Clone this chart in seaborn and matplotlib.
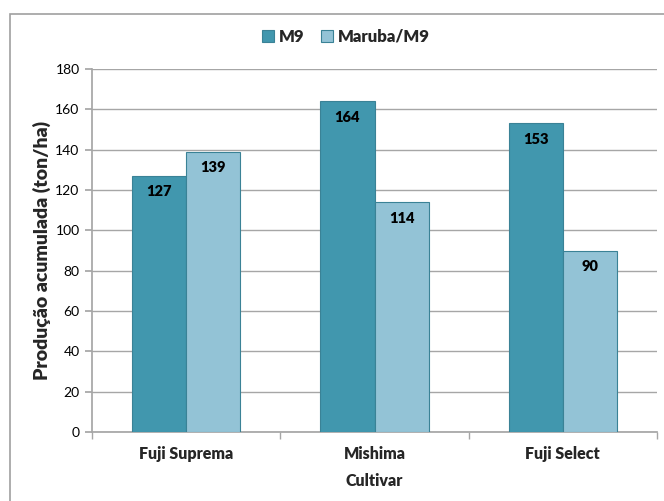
import matplotlib
matplotlib.use("Agg")
import matplotlib.pyplot as plt
import seaborn as sns
import pandas as pd
from matplotlib.patches import Rectangle

cultivars = ["Fuji Suprema", "Mishima", "Fuji Select"]
m9 = [127, 164, 153]
maruba = [139, 114, 90]
series = ["M9", "Maruba/M9"]

df = pd.DataFrame({
    "Cultivar": cultivars * 2,
    "value": m9 + maruba,
    "Porta-enxerto": [series[0]] * 3 + [series[1]] * 3,
})

sns.set_theme(style="white")
plt.rcParams['font.family'] = ['Lato', 'DejaVu Sans']

fig = plt.figure(figsize=(6.64, 5.01), dpi=100)
ax = fig.add_axes([92/664, 1-432/501, (657-92)/664, (432-69)/501])

palette = {"M9": "#4197AE", "Maruba/M9": "#93C3D6"}
sns.barplot(data=df, x="Cultivar", y="value", hue="Porta-enxerto",
            palette=palette, width=0.575, ax=ax, edgecolor="#3A8296",
            linewidth=0.8, saturation=1, legend=True, zorder=3)

ax.set_ylim(0, 180)
ax.set_yticks(range(0, 181, 20))
ax.set_xlim(-0.5, 2.5)
ax.yaxis.grid(True, color="#A6A6A6", linewidth=1, zorder=0)
ax.set_axisbelow(True)
for s in ["top", "right"]:
    ax.spines[s].set_visible(False)
ax.spines["left"].set_color("#A6A6A6")
ax.spines["bottom"].set_color("#A6A6A6")
ax.tick_params(axis="y", length=5, color="#A6A6A6", left=True, labelsize=10, pad=4, labelcolor="black")
ax.set_xticks([0, 1, 2])
ax.set_xticklabels(cultivars, fontweight="heavy", fontsize=11.5)
ax.tick_params(axis="x", length=0, pad=10)
ax.set_xticks([-0.5, 0.5, 1.5, 2.5], minor=True)
ax.tick_params(axis="x", which="minor", length=5, color="#A6A6A6", bottom=True)

for cont in ax.containers:
    for bar in cont:
        h = bar.get_height()
        ax.annotate(f"{int(round(h))}", (bar.get_x() + bar.get_width()/2, h),
                    xytext=(0, -11.5), textcoords="offset points", ha="center",
                    va="center", fontsize=10.5, fontweight="heavy", color="black", zorder=5)

ax.set_xlabel("Cultivar", fontweight="heavy", fontsize=11.5, labelpad=8)
ax.set_ylabel("Produção acumulada (ton/ha)", fontweight="heavy", fontsize=14, labelpad=3)

leg = ax.legend(loc="center", bbox_to_anchor=((346-92)/565, 1 + (69-37)/363), ncol=2,
                frameon=False, prop={"weight": "heavy", "size": 12},
                handlelength=0.7, handleheight=0.7, columnspacing=1.0, handletextpad=0.3)
for h in leg.legend_handles:
    h.set_edgecolor("#3A8296")

fig.patches.append(Rectangle((10/664, -0.05), 1.2, 1.05 - 14/501, transform=fig.transFigure,
                             fill=False, edgecolor="#A0A0A0", linewidth=1.2))

fig.savefig("out.png", dpi=100)
